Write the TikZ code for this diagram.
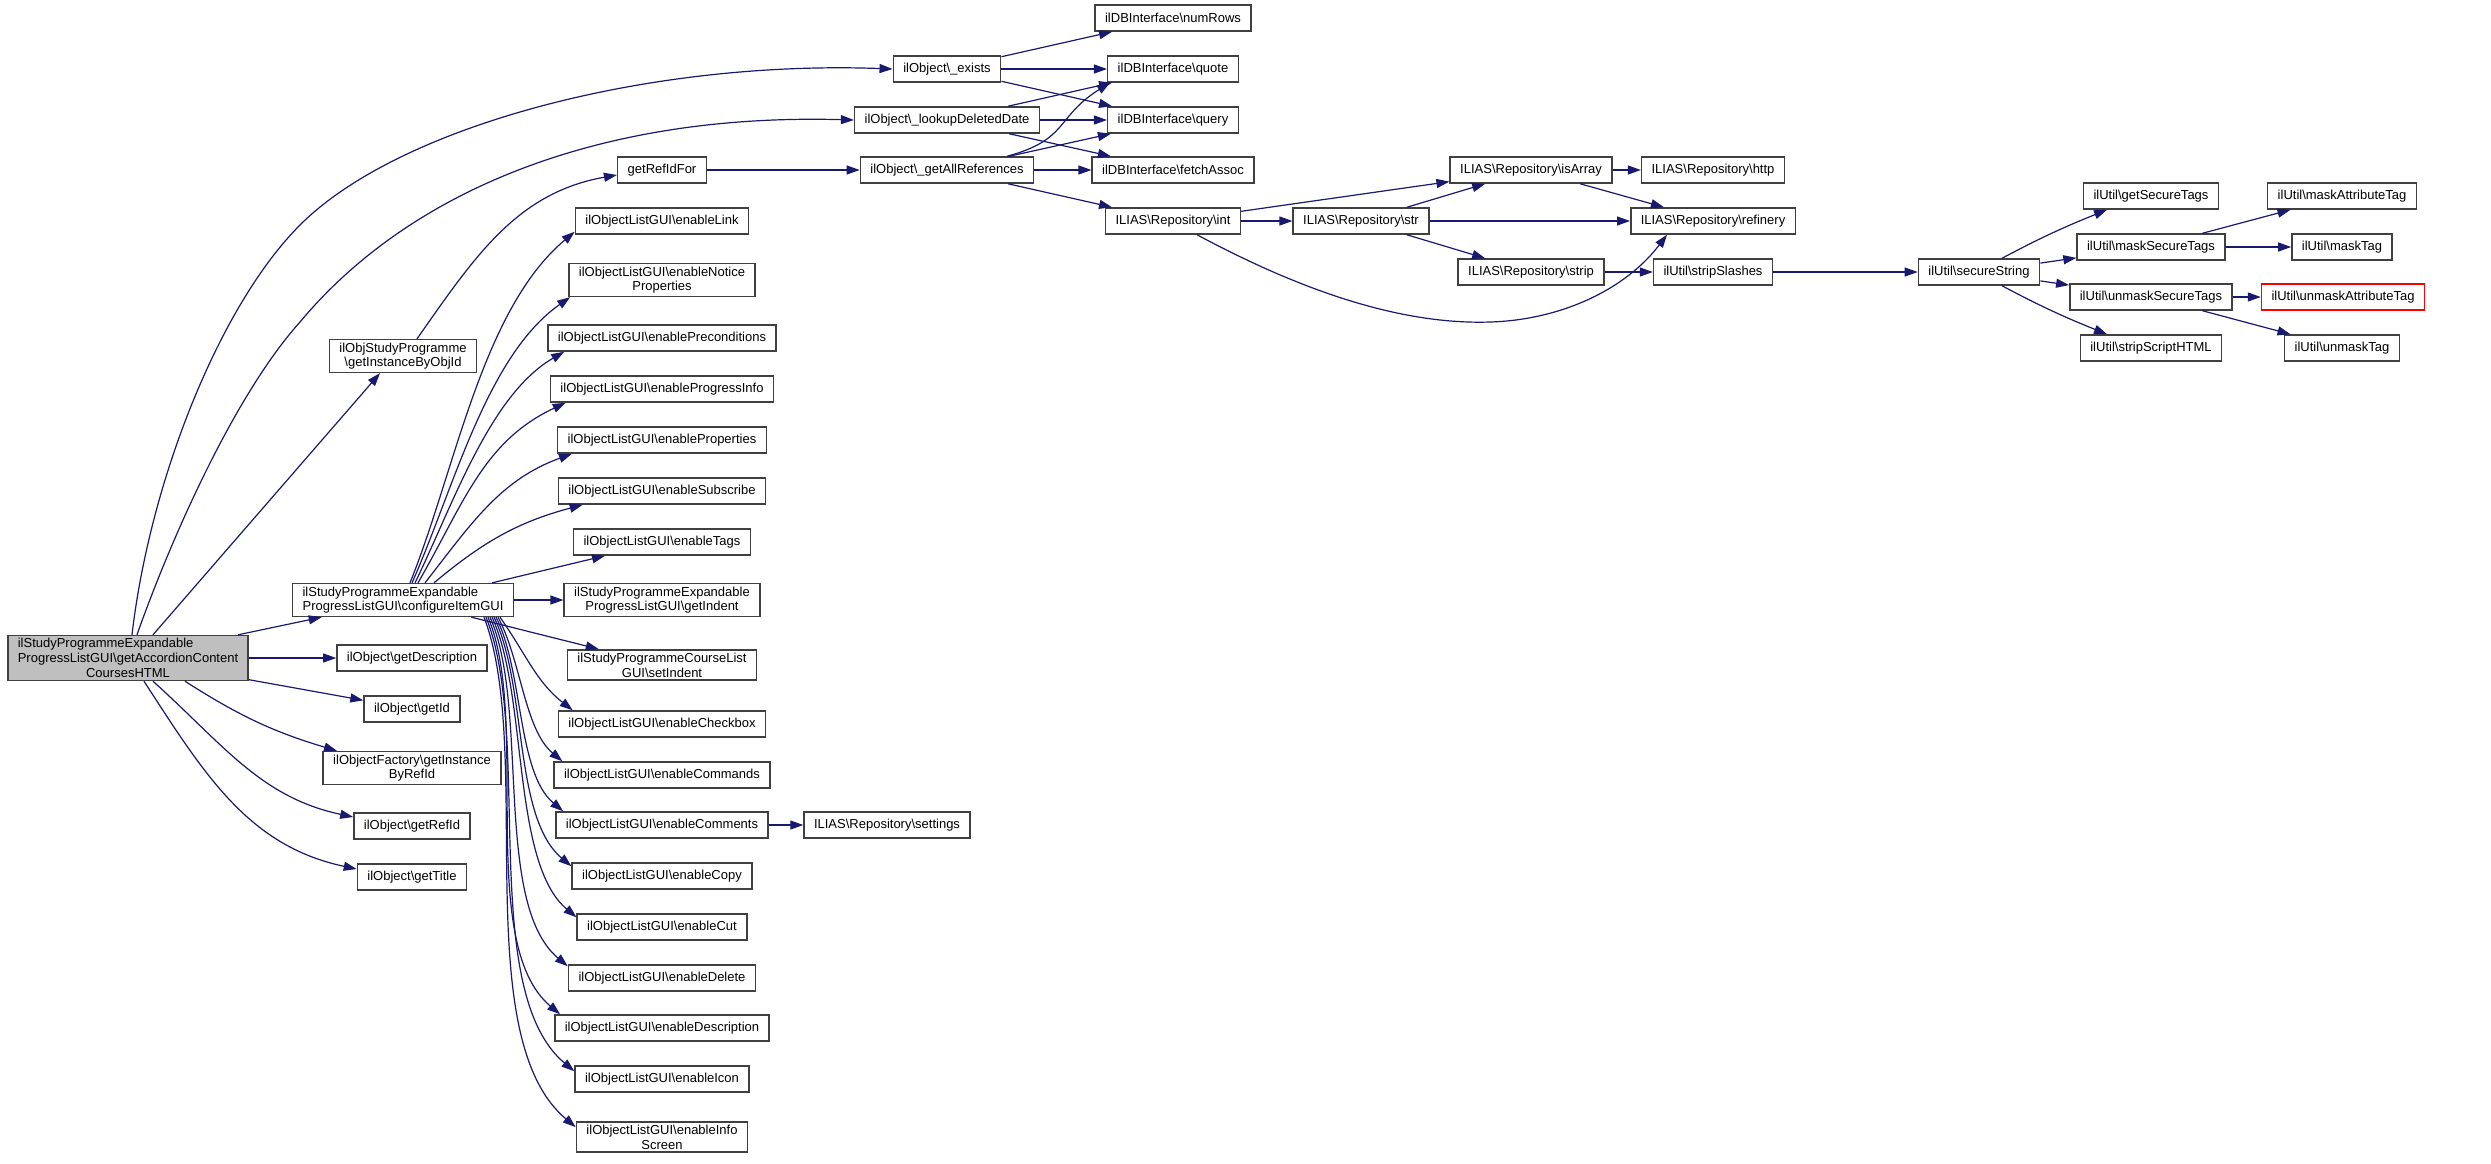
\documentclass[tikz,border=0pt]{standalone}
\usepackage{fontspec}
\setmainfont{Liberation Sans}
\usetikzlibrary{arrows.meta}
\definecolor{callblue}{HTML}{191970}
\newcommand{\bsl}{\textbackslash}

\begin{document}
\begin{tikzpicture}[x=1pt,y=1pt,
    fn/.style={draw=black!75,line width=1.5pt,fill=white,inner xsep=10pt,inner ysep=3pt,
        minimum height=26pt,align=center,font=\fontsize{13}{14.7}\selectfont},
    current/.style={fn,fill=black!25},
    undoc/.style={fn,draw=red},
    call/.style={draw=callblue,line width=1.2pt,-{Triangle[length=13pt,width=9pt]}}]
    \useasboundingbox [fill=white] (0,0) rectangle (2491,-1163);
    % caller and its direct callees
    \node [current] (main) at (128,-658) {\rlap{ilStudyProgrammeExpandable}\phantom{ProgressListGUI\bsl getAccordionContent}\\ProgressListGUI\bsl getAccordionContent\\CoursesHTML};
    \node [fn,align=left] (cfg) at (403,-600) {ilStudyProgrammeExpandable\\ProgressListGUI\bsl configureItemGUI};
    \node [fn] (desc) at (412,-658) {ilObject\bsl getDescription};
    \node [fn] (getid) at (412,-709) {ilObject\bsl getId};
    \node [fn] (byrefid) at (412,-768) {ilObjectFactory\bsl getInstance\\ByRefId};
    \node [fn] (getrefid) at (412,-826) {ilObject\bsl getRefId};
    \node [fn] (gettitle) at (412,-877) {ilObject\bsl getTitle};
    \node [fn] (byobjid) at (403,-356) {ilObjStudyProgramme\\\bsl getInstanceByObjId};
    \node [fn] (refidfor) at (662,-170) {getRefIdFor};
    % list gui column
    \node [fn] (link) at (662,-221) {ilObjectListGUI\bsl enableLink};
    \node [fn] (notice) at (662,-280) {ilObjectListGUI\bsl enableNotice\\Properties};
    \node [fn] (precond) at (662,-338) {ilObjectListGUI\bsl enablePreconditions};
    \node [fn] (progress) at (662,-389) {ilObjectListGUI\bsl enableProgressInfo};
    \node [fn] (props) at (662,-440) {ilObjectListGUI\bsl enableProperties};
    \node [fn] (subscr) at (662,-491) {ilObjectListGUI\bsl enableSubscribe};
    \node [fn] (tags) at (662,-542) {ilObjectListGUI\bsl enableTags};
    \node [fn] (indent) at (662,-600) {ilStudyProgrammeExpandable\\ProgressListGUI\bsl getIndent};
    \node [fn] (setindent) at (662,-665) {ilStudyProgrammeCourseList\\GUI\bsl setIndent};
    \node [fn] (checkbox) at (662,-724) {ilObjectListGUI\bsl enableCheckbox};
    \node [fn] (commands) at (662,-775) {ilObjectListGUI\bsl enableCommands};
    \node [fn] (comments) at (662,-825) {ilObjectListGUI\bsl enableComments};
    \node [fn] (copy) at (662,-876) {ilObjectListGUI\bsl enableCopy};
    \node [fn] (cut) at (662,-927) {ilObjectListGUI\bsl enableCut};
    \node [fn] (delete) at (662,-978) {ilObjectListGUI\bsl enableDelete};
    \node [fn] (descr) at (662,-1028) {ilObjectListGUI\bsl enableDescription};
    \node [fn] (icon) at (662,-1079) {ilObjectListGUI\bsl enableIcon};
    \node [fn] (info) at (662,-1137) {ilObjectListGUI\bsl enableInfo\\Screen};
    \node [fn] (settings) at (887,-825) {ILIAS\bsl Repository\bsl settings};
    % ilObject statics and db
    \node [fn] (exists) at (947,-69) {ilObject\bsl\_exists};
    \node [fn] (lookup) at (947,-120) {ilObject\bsl\_lookupDeletedDate};
    \node [fn] (allrefs) at (947,-170) {ilObject\bsl\_getAllReferences};
    \node [fn] (numrows) at (1173,-18) {ilDBInterface\bsl numRows};
    \node [fn] (quote) at (1173,-69) {ilDBInterface\bsl quote};
    \node [fn] (query) at (1173,-120) {ilDBInterface\bsl query};
    \node [fn] (fetch) at (1173,-170) {ilDBInterface\bsl fetchAssoc};
    \node [fn] (int) at (1173,-221) {ILIAS\bsl Repository\bsl int};
    % repository helpers
    \node [fn] (str) at (1361,-221) {ILIAS\bsl Repository\bsl str};
    \node [fn] (isarray) at (1531,-170) {ILIAS\bsl Repository\bsl isArray};
    \node [fn] (strip) at (1531,-272) {ILIAS\bsl Repository\bsl strip};
    \node [fn] (http) at (1713,-170) {ILIAS\bsl Repository\bsl http};
    \node [fn] (refinery) at (1713,-221) {ILIAS\bsl Repository\bsl refinery};
    \node [fn] (slashes) at (1713,-272) {ilUtil\bsl stripSlashes};
    % ilUtil
    \node [fn] (secure) at (1979,-272) {ilUtil\bsl secureString};
    \node [fn] (securetags) at (2151,-196) {ilUtil\bsl getSecureTags};
    \node [fn] (masksec) at (2151,-247) {ilUtil\bsl maskSecureTags};
    \node [fn] (unmasksec) at (2151,-297) {ilUtil\bsl unmaskSecureTags};
    \node [fn] (scripthtml) at (2151,-348) {ilUtil\bsl stripScriptHTML};
    \node [fn] (maskattr) at (2342,-196) {ilUtil\bsl maskAttributeTag};
    \node [fn] (masktag) at (2342,-247) {ilUtil\bsl maskTag};
    \node [undoc] (unmaskattr) at (2343,-297) {ilUtil\bsl unmaskAttributeTag};
    \node [fn] (unmasktag) at (2342,-348) {ilUtil\bsl unmaskTag};

    % calls of the caller
    \draw [call] ([xshift=4pt]main.north) .. controls (150,-480) and (220,-305) .. (300,-225)
        .. controls (400,-125) and (650,-60) .. (exists.west);
    \draw [call] ([xshift=9pt]main.north) .. controls (165,-555) and (230,-400) .. (300,-322)
        .. controls (410,-190) and (600,-113) .. (lookup.west);
    \draw [call] ([xshift=25pt]main.north) -- ([xshift=-23pt]byobjid.south);
    \draw [call] (main) -- (cfg);
    \draw [call] (main) -- (desc);
    \draw [call] (main) -- (getid);
    \draw [call] ([xshift=57pt]main.south) to [bend right=8] ([xshift=-75pt]byrefid.north);
    \draw [call] ([xshift=25pt]main.south) to [out=-42,in=168] ([yshift=9pt]getrefid.west);
    \draw [call] ([xshift=16pt]main.south) to [out=-57,in=168] ([yshift=8pt]gettitle.west);
    \draw [call] ([xshift=14pt]byobjid.north) to [out=55,in=190] ([yshift=-5pt]refidfor.west);
    \draw [call] (refidfor) -- (allrefs);

    % calls of configureItemGUI
    \draw [call] ([xshift=7pt]cfg.north) to [out=68,in=220,looseness=0.8] ([yshift=3pt]link.south west);
    \draw [call] ([xshift=9pt]cfg.north) to [out=66,in=215,looseness=0.8] ([xshift=2pt]notice.south west);
    \draw [call] ([xshift=12pt]cfg.north) to [out=64,in=210,looseness=0.8] ([xshift=17pt]precond.south west);
    \draw [call] ([xshift=15pt]cfg.north) to [out=60,in=205] ([xshift=16pt]progress.south west);
    \draw [call] ([xshift=22pt]cfg.north) to [out=52,in=200] ([xshift=15pt]props.south west);
    \draw [call] ([xshift=31pt]cfg.north) to [out=40,in=195] ([xshift=25pt]subscr.south west);
    \draw [call] ([xshift=89pt]cfg.north) -- ([xshift=-57pt]tags.south);
    \draw [call] (cfg) -- (indent);
    \draw [call] (cfg) -- (setindent);
    \draw [call] ([xshift=97pt]cfg.south) to [out=-55,in=142] ([xshift=15pt]checkbox.north west);
    \draw [call] ([xshift=95pt]cfg.south) to [out=-62,in=140,looseness=0.8] ([xshift=9pt]commands.north west);
    \draw [call] ([xshift=93pt]cfg.south) to [out=-63,in=140,looseness=0.75] ([xshift=8pt]comments.north west);
    \draw [call] ([xshift=91pt]cfg.south) to [out=-64,in=140,looseness=0.75] ([yshift=-4pt]copy.north west);
    \draw [call] ([xshift=89pt]cfg.south) to [out=-65,in=140,looseness=0.7] ([yshift=-4pt]cut.north west);
    \draw [call] ([xshift=87pt]cfg.south) to [out=-66,in=140,looseness=0.7] ([yshift=-2pt]delete.north west);
    \draw [call] ([xshift=85pt]cfg.south) to [out=-67,in=140,looseness=0.7] ([xshift=6pt]descr.north west);
    \draw [call] ([xshift=83pt]cfg.south) to [out=-68,in=140,looseness=0.7] ([yshift=-6pt]icon.north west);
    \draw [call] ([xshift=81pt]cfg.south) to [out=-69,in=140,looseness=0.7] ([yshift=-6pt]info.north west);
    \draw [call] (comments) -- (settings);

    % database calls
    \draw [call] (exists) -- (numrows);
    \draw [call] (exists) -- (quote);
    \draw [call] (exists) -- (query);
    \draw [call] (lookup) -- (quote);
    \draw [call] (lookup) -- (query);
    \draw [call] (lookup) -- (fetch);
    \draw [call] ([xshift=60pt]allrefs.north) to [out=15,in=212,looseness=1.3] ([xshift=-63pt]quote.south);
    \draw [call] (allrefs) -- (query);
    \draw [call] (allrefs) -- (fetch);
    \draw [call] (allrefs) -- (int);

    % repository
    \draw [call] (int) -- (isarray);
    \draw [call] (int) -- (str);
    \draw [call] ([xshift=24pt]int.south) .. controls (1300,-290) and (1400,-325) .. (1490,-322)
        .. controls (1560,-320) and (1625,-290) .. ([xshift=-46pt]refinery.south);
    \draw [call] (str) -- (isarray);
    \draw [call] (str) -- (refinery);
    \draw [call] (str) -- (strip);
    \draw [call] (isarray) -- (http);
    \draw [call] (isarray) -- (refinery);
    \draw [call] (strip) -- (slashes);
    \draw [call] (slashes) -- (secure);

    % ilUtil
    \draw [call] ([xshift=23pt]secure.north) to [out=28,in=202] ([xshift=-44pt]securetags.south);
    \draw [call] (secure) -- (masksec);
    \draw [call] (secure) -- (unmasksec);
    \draw [call] ([xshift=23pt]secure.south) to [out=-28,in=158] ([xshift=-44pt]scripthtml.north);
    \draw [call] (masksec) -- (maskattr);
    \draw [call] (masksec) -- (masktag);
    \draw [call] (unmasksec) -- (unmaskattr);
    \draw [call] (unmasksec) -- (unmasktag);
\end{tikzpicture}
\end{document}
